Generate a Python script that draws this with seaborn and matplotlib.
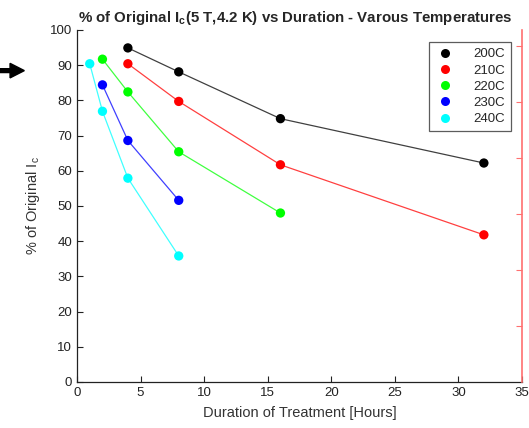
import matplotlib
matplotlib.use("Agg")
import matplotlib.pyplot as plt
from matplotlib.lines import Line2D
from matplotlib.patches import FancyArrow
import seaborn as sns
import pandas as pd

temps = ["200C", "210C", "220C", "230C", "240C"]
colors = ["#000000", "#ff0000", "#00ff00", "#0000ff", "#00ffff"]
hours_200 = [4, 8, 16, 32]
pct_200 = [94.9, 88.1, 74.8, 62.2]
hours_210 = [4, 8, 16, 32]
pct_210 = [90.4, 79.7, 61.7, 41.8]
hours_220 = [2, 4, 8, 16]
pct_220 = [91.7, 82.4, 65.4, 48.0]
hours_230 = [2, 4, 8]
pct_230 = [84.4, 68.6, 51.6]
hours_240 = [1, 2, 4, 8]
pct_240 = [90.4, 76.9, 57.9, 35.8]

xticks = [0, 5, 10, 15, 20, 25, 30, 35]
yticks = [0, 10, 20, 30, 40, 50, 60, 70, 80, 90, 100]

rows = []
for t, hs, ps in zip(temps,
                     [hours_200, hours_210, hours_220, hours_230, hours_240],
                     [pct_200, pct_210, pct_220, pct_230, pct_240]):
    for h, p in zip(hs, ps):
        rows.append({"Temp": t, "Hours": h, "Pct": p})
df = pd.DataFrame(rows)

sns.set_style("white")
plt.rcParams["font.family"] = ["Liberation Sans", "DejaVu Sans"]

fig = plt.figure(figsize=(5.29, 4.28), dpi=100)
ax = fig.add_axes([0.1456, 0.1075, 0.8412, 0.8225])

pal = dict(zip(temps, colors))
# connecting lines (lighter, thinner)
sns.lineplot(data=df, x="Hours", y="Pct", hue="Temp", palette=pal,
             linewidth=0.9, alpha=0.75, legend=False, ax=ax, sort=False,
             estimator=None)
# markers
sns.scatterplot(data=df, x="Hours", y="Pct", hue="Temp", palette=pal,
                s=45, linewidth=0, legend=False, ax=ax, zorder=3)

ax.set_xlim(0, 35)
ax.set_ylim(0, 100)
ax.set_xticks(xticks)
ax.set_yticks(yticks)
ax.tick_params(direction="in", length=4, width=0.8, labelsize=9.5,
               colors="#222222", top=False, right=False, left=True, bottom=True)
for s in ["top", "right"]:
    ax.spines[s].set_visible(False)
for s in ["left", "bottom"]:
    ax.spines[s].set_color("#222222")
    ax.spines[s].set_linewidth(0.9)

ax.set_xlabel("Duration of Treatment [Hours]", fontsize=10.5, color="#333333", labelpad=5)
ax.set_ylabel("% of Original I$_\\mathregular{c}$", fontsize=10.5, color="#333333", labelpad=6)
ax.set_title("% of Original I$_\\mathregular{c}$(5 T,4.2 K) vs Duration - Varous Temperatures",
             fontsize=10.8, fontweight="bold", pad=6, x=0.49)

# red right axis (its labels lie beyond the picture's edge)
ax2 = ax.twinx()
ax2.set_ylim(0, 6.29)
ax2.set_yticks([1, 2, 3, 4, 5, 6])
ax2.set_yticklabels([])
for s in ["top", "left", "bottom"]:
    ax2.spines[s].set_visible(False)
ax2.spines["right"].set_color("#ff7070")
ax2.spines["right"].set_linewidth(1.2)
ax2.tick_params(axis="y", direction="in", length=4, colors="#ff7070")

handles = [Line2D([0], [0], marker="o", linestyle="none", markersize=6.5,
                  markerfacecolor=c, markeredgewidth=0) for c in colors]
leg = ax.legend(handles, temps, loc="upper right", bbox_to_anchor=(0.989, 0.984),
                frameon=True, fancybox=False, fontsize=9.5, handletextpad=1.3,
                borderpad=0.45, labelspacing=0.3, handlelength=1.6)
leg.get_frame().set_edgecolor("#333333")
leg.get_frame().set_linewidth(0.9)

# arrow on the left
fig.patches.append(FancyArrow(0.0, 0.835, 0.046, 0.0, width=0.009, head_width=0.034,
                              head_length=0.027, length_includes_head=True,
                              color="black", transform=fig.transFigure, figure=fig))

fig.savefig("out.png", dpi=100)
